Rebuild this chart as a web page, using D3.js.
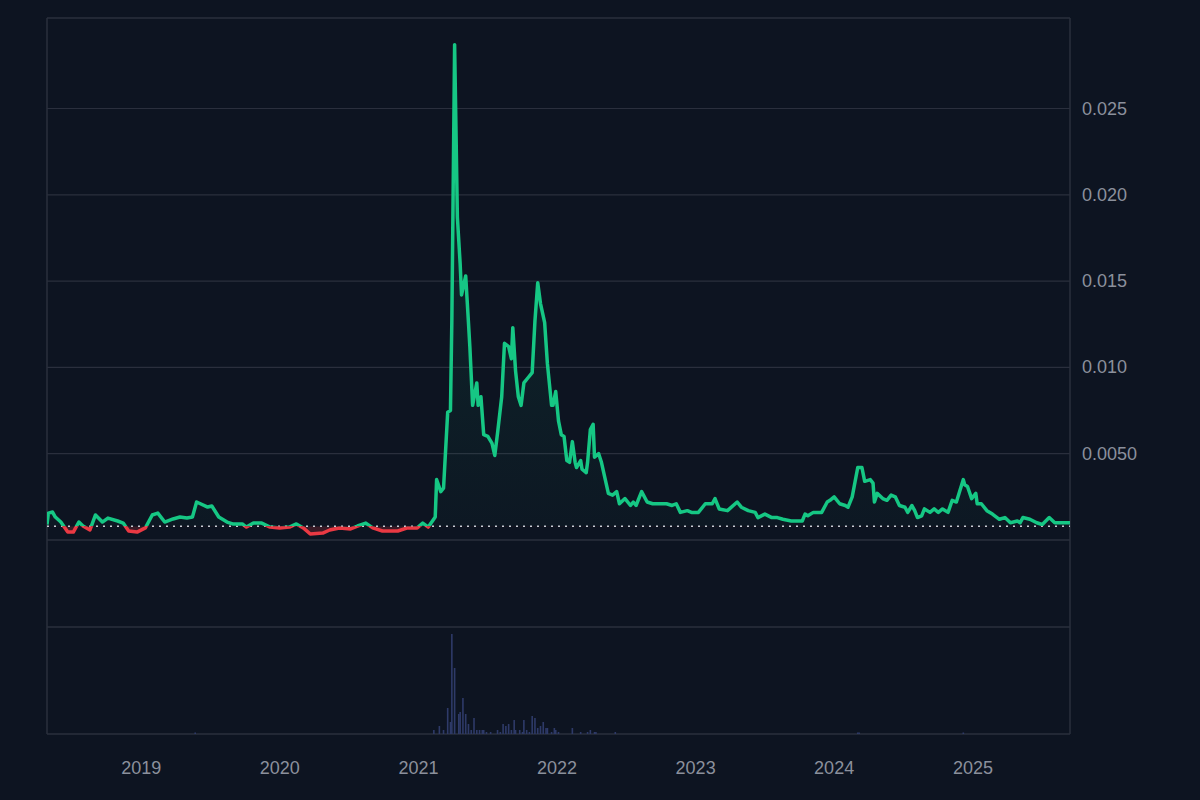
<!DOCTYPE html>
<html><head><meta charset="utf-8">
<script src="https://cdn.jsdelivr.net/npm/d3@7"></script>
<style>html,body{margin:0;background:#0d1421;}svg{display:block;font-family:"Liberation Sans",Arial,sans-serif;}</style>
</head><body><svg id="c" width="1200" height="800"></svg>
<script>
const priceDates=[2018.32,2018.33,2018.36,2018.38,2018.42,2018.47,2018.51,2018.55,2018.58,2018.63,2018.67,2018.72,2018.76,2018.83,2018.87,2018.91,2018.97,2019.03,2019.08,2019.12,2019.17,2019.23,2019.28,2019.33,2019.37,2019.40,2019.48,2019.51,2019.56,2019.62,2019.66,2019.73,2019.76,2019.81,2019.87,2019.93,2020.00,2020.07,2020.12,2020.17,2020.22,2020.31,2020.36,2020.43,2020.51,2020.56,2020.62,2020.67,2020.74,2020.85,2020.92,2020.99,2021.03,2021.07,2021.12,2021.13,2021.16,2021.18,2021.21,2021.23,2021.24,2021.26,2021.28,2021.30,2021.31,2021.34,2021.36,2021.37,2021.39,2021.42,2021.43,2021.45,2021.47,2021.50,2021.53,2021.55,2021.57,2021.60,2021.62,2021.65,2021.67,2021.68,2021.70,2021.72,2021.74,2021.76,2021.79,2021.82,2021.84,2021.86,2021.88,2021.91,2021.93,2021.96,2021.97,2021.99,2022.01,2022.03,2022.05,2022.07,2022.09,2022.11,2022.13,2022.14,2022.17,2022.18,2022.21,2022.22,2022.24,2022.26,2022.27,2022.30,2022.32,2022.37,2022.40,2022.43,2022.45,2022.49,2022.53,2022.55,2022.57,2022.61,2022.65,2022.69,2022.73,2022.79,2022.83,2022.86,2022.89,2022.94,2022.97,2023.02,2023.07,2023.12,2023.14,2023.17,2023.23,2023.30,2023.33,2023.38,2023.43,2023.45,2023.50,2023.55,2023.59,2023.63,2023.69,2023.77,2023.79,2023.81,2023.85,2023.91,2023.95,2023.97,2024.00,2024.04,2024.08,2024.10,2024.13,2024.17,2024.20,2024.22,2024.26,2024.28,2024.29,2024.31,2024.35,2024.38,2024.41,2024.44,2024.47,2024.51,2024.53,2024.56,2024.58,2024.60,2024.63,2024.65,2024.69,2024.72,2024.75,2024.78,2024.82,2024.85,2024.88,2024.93,2024.94,2024.96,2024.99,2025.02,2025.03,2025.06,2025.10,2025.14,2025.19,2025.23,2025.27,2025.32,2025.34,2025.36,2025.41,2025.46,2025.50,2025.55,2025.59,2025.65,2025.70];
const priceValues=[0.0009,0.00156,0.00162,0.00133,0.00104,0.00046,0.00046,0.00104,0.00081,0.00058,0.00145,0.00104,0.00127,0.0011,0.00098,0.00052,0.00046,0.0007,0.00145,0.00156,0.00104,0.00122,0.00133,0.00127,0.00133,0.0022,0.00191,0.00197,0.00133,0.00104,0.00093,0.00093,0.00075,0.00098,0.00098,0.00075,0.0007,0.00075,0.00093,0.0007,0.00035,0.0004,0.00058,0.0007,0.00064,0.00081,0.00098,0.0007,0.00052,0.00052,0.0007,0.0007,0.00098,0.00075,0.00133,0.0035,0.0028,0.0030,0.0074,0.0075,0.0127,0.0287,0.0187,0.0160,0.0142,0.0153,0.0126,0.0112,0.0078,0.0091,0.0078,0.0083,0.0061,0.0060,0.0056,0.0049,0.0062,0.0083,0.0114,0.0112,0.0105,0.0123,0.0098,0.0083,0.0078,0.0091,0.0094,0.0097,0.0127,0.0149,0.0137,0.0126,0.0102,0.0078,0.0078,0.0086,0.0069,0.0061,0.0060,0.0046,0.0045,0.0057,0.0045,0.0042,0.0046,0.0041,0.0039,0.0045,0.0064,0.0067,0.0048,0.0050,0.0045,0.0027,0.0026,0.0028,0.0021,0.0024,0.0020,0.0022,0.0020,0.0028,0.0022,0.0021,0.0021,0.0021,0.0020,0.0021,0.0016,0.0017,0.0016,0.0016,0.0021,0.0021,0.0024,0.0018,0.0017,0.0022,0.0019,0.0017,0.0016,0.0013,0.0015,0.0013,0.0013,0.0012,0.0011,0.0011,0.0015,0.0014,0.0016,0.0016,0.0022,0.0023,0.0025,0.0021,0.0020,0.0019,0.0025,0.0042,0.0042,0.0034,0.0035,0.0033,0.0022,0.0027,0.0024,0.0023,0.0026,0.0025,0.0020,0.0019,0.0016,0.0020,0.0017,0.0013,0.0014,0.0018,0.0016,0.0018,0.0016,0.0018,0.0016,0.0023,0.0022,0.0035,0.0032,0.0031,0.0024,0.0027,0.0021,0.0021,0.0017,0.0015,0.0012,0.0013,0.0010,0.0011,0.0010,0.0013,0.0012,0.0010,0.0009,0.0013,0.0010,0.0010,0.0010];
const baseline=0.0008;
const volDates=[2019.39,2021.11,2021.15,2021.18,2021.21,2021.23,2021.24,2021.26,2021.29,2021.30,2021.32,2021.34,2021.36,2021.38,2021.40,2021.42,2021.44,2021.46,2021.47,2021.49,2021.52,2021.57,2021.59,2021.61,2021.63,2021.65,2021.67,2021.69,2021.70,2021.73,2021.75,2021.76,2021.78,2021.80,2021.82,2021.84,2021.86,2021.88,2021.90,2021.92,2021.93,2021.96,2021.98,2021.99,2022.01,2022.11,2022.17,2022.22,2022.24,2022.27,2022.28,2022.42,2024.17,2024.18,2024.93];
const volValues=[1.5,4,8,4,26,12,100,66,20,22,36,20,10,4,16,4,4,4,4,2,2,4,2,10,8,10,4,14,4,4,2,14,4,2,18,16,6,8,12,6,6,2,6,4,2,6,2,2,4,2,2,2,1.5,1.5,1.5];
const yTicks=[0.005,0.010,0.015,0.020,0.025];
const yTickLabels=["0.0050","0.010","0.015","0.020","0.025"];
const xTickYears=[2019,2020,2021,2022,2023,2024,2025];

const toDate=y=>{const yr=Math.floor(y);const s=new Date(yr,0,1),e=new Date(yr+1,0,1);return new Date(+s+(y-yr)*(e-s));};
const L=47,R=1070,T=18,PB=540,VT=627,VB=734;
const svg=d3.select("#c");
svg.append("rect").attr("width",1200).attr("height",800).attr("fill","#0d1421");
const x=d3.scaleTime().domain([toDate(2018.32),toDate(2025.70)]).range([L,R]);
const y=d3.scaleLinear().domain([0,0.005]).range([PB,PB-86.3]);
const yv=d3.scaleLinear().domain([0,100]).range([VB,VT+7]);
const grid="#2a2f3d", txt="#8b909c";
svg.selectAll(".g").data(yTicks).join("line").attr("x1",L).attr("x2",R).attr("y1",d=>y(d)).attr("y2",d=>y(d)).attr("stroke",grid).attr("stroke-width",1.2);
[T,PB,VT,VB].forEach(v=>svg.append("line").attr("x1",L).attr("x2",R).attr("y1",v).attr("y2",v).attr("stroke",grid).attr("stroke-width",1.5));
[L,R].forEach(v=>svg.append("line").attr("x1",v).attr("x2",v).attr("y1",T).attr("y2",VB).attr("stroke",grid).attr("stroke-width",1.5));
svg.selectAll(".yl").data(yTicks).join("text").attr("x",1082).attr("y",d=>y(d)+6).attr("fill",txt).attr("font-size",18).text((d,i)=>yTickLabels[i]);
svg.selectAll(".xl").data(xTickYears).join("text").attr("x",d=>x(toDate(d))).attr("y",774).attr("text-anchor","middle").attr("fill",txt).attr("font-size",18).text(d=>d);
const data=priceDates.map((d,i)=>({d:toDate(d),v:priceValues[i]}));
const by=y(baseline);
const defs=svg.append("defs");
defs.append("clipPath").attr("id","above").append("rect").attr("x",L).attr("y",T).attr("width",R-L).attr("height",by-T);
defs.append("clipPath").attr("id","below").append("rect").attr("x",L).attr("y",by).attr("width",R-L).attr("height",PB-by);
const gr=defs.append("linearGradient").attr("id","ga").attr("x1",0).attr("x2",0).attr("y1",0).attr("y2",1);
gr.append("stop").attr("offset","0%").attr("stop-color","#16c784").attr("stop-opacity",0.14);
gr.append("stop").attr("offset","100%").attr("stop-color","#16c784").attr("stop-opacity",0.02);
const area=d3.area().x(d=>x(d.d)).y0(by).y1(d=>y(d.v));
const line=d3.line().x(d=>x(d.d)).y(d=>y(d.v));
svg.append("path").datum(data).attr("d",area).attr("fill","url(#ga)").attr("clip-path","url(#above)");
svg.append("path").datum(data).attr("d",area).attr("fill","#ea3943").attr("fill-opacity",0.2).attr("clip-path","url(#below)");
svg.append("line").attr("x1",L).attr("x2",R).attr("y1",by).attr("y2",by).attr("stroke","#c8ccd4").attr("stroke-width",1.5).attr("stroke-dasharray","2,5");
svg.append("path").datum(data).attr("d",line).attr("fill","none").attr("stroke","#16c784").attr("stroke-width",3.5).attr("stroke-linejoin","round").attr("clip-path","url(#above)");
svg.append("path").datum(data).attr("d",line).attr("fill","none").attr("stroke","#ea3943").attr("stroke-width",3.5).attr("stroke-linejoin","round").attr("clip-path","url(#below)");
svg.selectAll(".v").data(volDates).join("rect").attr("x",d=>x(toDate(d))-0.8).attr("width",1.6).attr("y",(d,i)=>yv(volValues[i])).attr("height",(d,i)=>VB-yv(volValues[i])).attr("fill","#2e3a68");
</script></body></html>
